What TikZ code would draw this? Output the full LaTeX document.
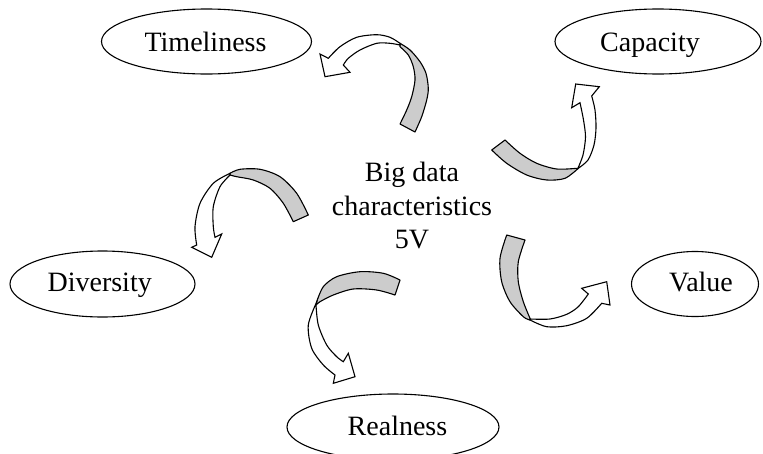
\documentclass[tikz,border=0pt]{standalone}
\usepackage{fontspec}
\setmainfont{Liberation Serif}
\usetikzlibrary{shapes.geometric}
\begin{document}
\begin{tikzpicture}[x=1pt,y=-1pt,
  ell/.style={draw=black, line width=1.1pt, shape=ellipse, inner sep=0pt},
  lbl/.style={anchor=base, inner sep=0pt, font=\fontsize{28}{33.5}\selectfont},
  graypart/.style={draw=black, fill=black!20, line width=1.1pt, line join=round},
  whitepart/.style={draw=black, fill=white, line width=1.1pt},
]
\useasboundingbox (0,0) rectangle (763,453);
\fill[white] (0,0) rectangle (763,453);
\node[ell, minimum width=210pt, minimum height=65pt] (tim) at (206.5,41.5) {};
\node[ell, minimum width=206pt, minimum height=65pt] (cap) at (658,41.5) {};
\node[ell, minimum width=185pt, minimum height=66pt] (dvs) at (102.5,284) {};
\node[ell, minimum width=127pt, minimum height=65pt] (vlu) at (695,284) {};
\node[ell, minimum width=212pt, minimum height=66pt] (rea) at (393,427) {};
\node[lbl] (timt) at (205.5,51.7) {Timeliness};
\node[lbl] (capt) at (650,51.7) {Capacity};
\node[lbl] (dvst) at (99.7,291.7) {Diversity};
\node[lbl] (vlut) at (701,291.7) {Value};
\node[lbl] (reat) at (397.5,435) {Realness};
\node[lbl, anchor=center, align=center] (ctr) at (412,205.8) {Big data\\characteristics\\5V};
\draw[graypart] plot[smooth] coordinates {(415,132) (421.7,116.7) (426.7,100) (428.3,88.3) (426,73.3) (420,61.7) (410,50) (400,43.3)}
  -- plot[smooth] coordinates {(400,46.7) (408.3,55) (413.3,66.7) (415,80) (411.7,96.7) (406.7,110) (400,124)} -- cycle;
\draw[whitepart] plot[smooth] coordinates {(400,43.3) (390,37.3) (376.7,34.7) (356.7,37.3) (340,46.7) (328.3,58.3)}
  -- (320,54) -- (325,76.7) -- (350,72.3) -- (343.3,65)
  -- plot[smooth] coordinates {(343.3,65) (348.3,58.3) (360,50) (376.7,43.3) (390,43.3) (400,45)} -- cycle;
\draw[graypart] plot[smooth] coordinates {(491.7,150) (506.7,163.3) (526.7,175) (546.7,180) (565,178.3) (578.3,168.3)}
  -- plot[smooth] coordinates {(576.7,168.3) (556.7,169) (536.7,163.3) (520,153.3) (505,140)} -- cycle;
\draw[whitepart] plot[smooth] coordinates {(578.3,168.3) (588,160) (594,145) (596,128) (595,110) (591.7,96)}
  -- (599.3,86.7) -- (575.7,84) -- (571.7,107.7) -- (580,102.7)
  -- plot[smooth] coordinates {(580,102.7) (583.5,120) (585.5,137) (583,155) (578,168)} -- cycle;
\draw[graypart] plot[smooth] coordinates {(308.3,215) (296.7,193.3) (280,176.7) (260,169.3) (240,169.3) (230,173.3)}
  -- plot[smooth] coordinates {(230,175) (236.7,176.7) (253.3,180) (270,188.3) (283.3,203.3) (293.3,221.7)} -- cycle;
\draw[whitepart] plot[smooth] coordinates {(230,173.3) (213.3,183.3) (200,203.3) (195,226.7) (196.7,245)}
  -- (191.7,247.3) -- (211.7,257.3) -- (221.7,234) -- (215,237.3)
  -- plot[smooth] coordinates {(215,237.3) (213.3,226.7) (213.3,206.7) (220,186.7) (230,175)} -- cycle;
\draw[graypart] plot[smooth] coordinates {(506.7,235) (500,258.3) (501.7,281.7) (510,301.7) (523.3,316.7) (530,320)}
  -- plot[smooth] coordinates {(530,318.3) (523.3,301.7) (518.3,281.7) (518.3,261.7) (525,240)} -- cycle;
\draw[whitepart] plot[smooth] coordinates {(530,320) (546.7,326.7) (566.7,325.7) (586.7,318.3) (601.7,303.3)}
  -- (610,305) -- (606.7,281.7) -- (581.7,288.3) -- (588.3,294)
  -- plot[smooth] coordinates {(588.3,294) (578.3,306.7) (566.7,314.3) (550,319) (530,319)} -- cycle;
\draw[graypart] plot[smooth] coordinates {(400,280) (383.3,273.3) (360,271.7) (336.7,276.7) (323.3,286.7) (316.7,301.7)}
  -- plot[smooth] coordinates {(316,305) (320,301.7) (333.3,295) (353.3,289) (376.7,290) (395,295)} -- cycle;
\draw[whitepart] plot[smooth] coordinates {(316.7,302) (308.3,325) (311.7,348.3) (323.3,365) (335,375)}
  -- (333.3,383.3) -- (355,376.7) -- (348.3,353.3) -- (343.3,361.7)
  -- plot[smooth] coordinates {(343.3,361.7) (336.7,356.7) (326.7,345) (318.3,325) (316,305)} -- cycle;
\end{tikzpicture}
\end{document}
